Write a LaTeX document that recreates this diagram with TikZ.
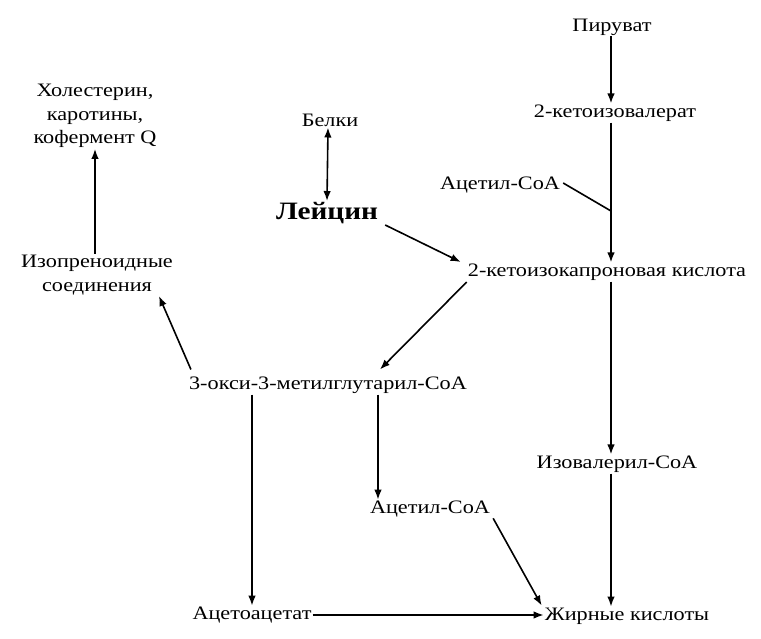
\documentclass[tikz,border=0pt]{standalone}
\usepackage{fontspec}
\setmainfont{Liberation Serif}[FakeStretch=1.17]
\usetikzlibrary{arrows.meta,calc}
\begin{document}
\begin{tikzpicture}[x=1pt,y=-1pt,
  lbl/.style={font=\fontsize{19}{23.5}\selectfont, inner sep=1pt, align=center},
  tip/.style={-{Latex[length=10pt,width=7.5pt]}},
  arr/.style={line width=1.6pt, tip},
  ln/.style={line width=1.6pt}]
\useasboundingbox (0,0) rectangle (761,639);
\node[lbl] (pir) at (612,27) {Пируват};
\node[lbl] (kiv) at (615,113) {2-кетоизовалерат};
\node[lbl] (ac1) at (500,185) {Ацетил-СоА};
\node[lbl] (bel) at (330,120) {Белки};
\node[lbl,font=\fontsize{25}{29}\selectfont\bfseries] (leu) at (327,213) {Лейцин};
\node[lbl] (hol) at (95,116) {Холестерин,\\каротины,\\кофермент Q};
\node[lbl] (iso) at (97,275) {Изопреноидные\\соединения};
\node[lbl] (kic) at (607,272) {2-кетоизокапроновая кислота};
\node[lbl] (hmg) at (328,385) {3-окси-3-метилглутарил-СоА};
\node[lbl] (ivc) at (617,464) {Изовалерил-СоА};
\node[lbl] (ac2) at (430,509) {Ацетил-СоА};
\node[lbl] (aca) at (252,615) {Ацетоацетат};
\node[lbl] (fat) at (627,616) {Жирные кислоты};
\coordinate (col) at (611,0);
\coordinate (j) at (611,211);
\draw[arr] (pir.south -| col) -- (kiv.north -| col);
\draw[arr] (kiv.south -| col) -- (kic.north -| col);
\draw[ln] ($(ac1.east)+(2,-2)$) -- (j);
\draw[line width=1.6pt,{Latex[length=10pt,width=7.5pt]}-{Latex[length=10pt,width=7.5pt]}] ($(bel.south)+(-2,0)$) -- (leu.north);
\draw[arr] ($(leu.east)+(6,12)$) -- ($(kic.west)+(-6,-10)$);
\draw[arr] ($(kic.west)+(0,10)$) -- ($(hmg.north)+(52,-6)$);
\draw[arr] ($(hmg.north west)+(3,-6)$) -- ($(iso.south east)+(-15,0)$);
\draw[arr] (iso.north -| hol) -- (hol.south);
\draw[arr] (hmg.south -| aca) -- (aca.north);
\draw[arr] ($(hmg.south)+(50,0)$) -- ($(ac2.north)+(-52,0)$);
\draw[arr] ($(ac2.south east)+(2,0)$) -- ($(fat.north west)+(-2,-1)$);
\draw[arr] (aca.east) -- (aca.east -| fat.west);
\draw[arr] (kic.south -| col) -- (ivc.north -| col);
\draw[arr] (ivc.south -| col) -- (fat.north -| col);
\end{tikzpicture}
\end{document}
